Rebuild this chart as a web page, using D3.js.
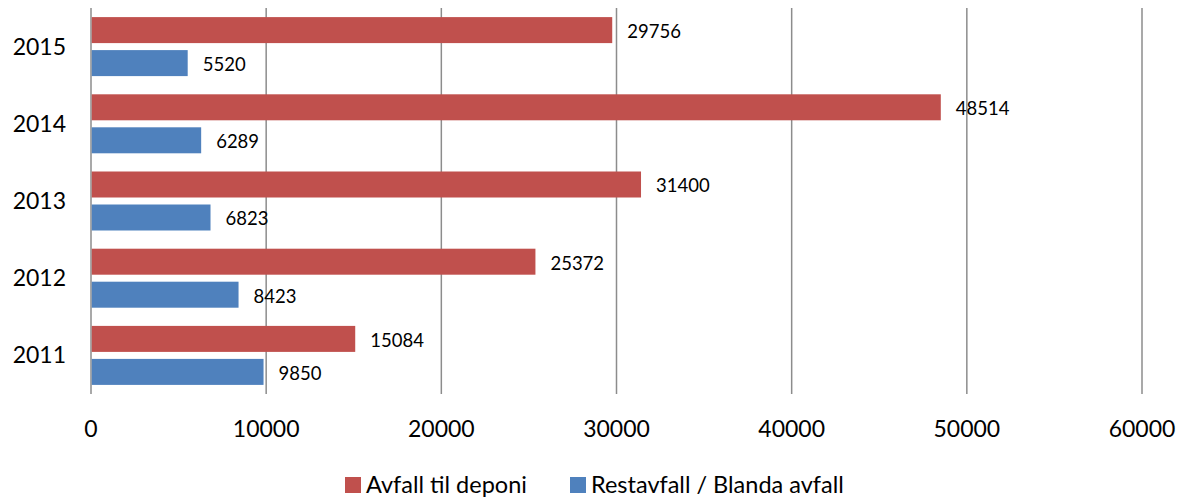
<!DOCTYPE html>
<html>
<head>
<meta charset="utf-8">
<script src="https://cdn.jsdelivr.net/npm/d3@7"></script>
<style>
  body { margin: 0; background: #fff; }
  text { font-family: Lato, "Open Sans", sans-serif; fill: #000; }
</style>
</head>
<body>
<div id="chart"></div>
<script>
var years = ["2015", "2014", "2013", "2012", "2011"];
var deponi = [29756, 48514, 31400, 25372, 15084];
var restavfall = [5520, 6289, 6823, 8423, 9850];
var ticks = [0, 10000, 20000, 30000, 40000, 50000, 60000];
var seriesNames = ["Avfall til deponi", "Restavfall / Blanda avfall"];
var colors = ["#C0504D", "#4F81BD"];

var width = 1186, height = 502;
var plotLeft = 91, plotRight = 1142, plotTop = 8, plotBottom = 394;

var svg = d3.select("#chart").append("svg")
  .attr("width", width)
  .attr("height", height);

var x = d3.scaleLinear().domain([0, 60000]).range([plotLeft, plotRight]);
var y = d3.scaleBand().domain(years).range([plotTop, plotBottom]);

// gridlines
svg.selectAll("line.grid")
  .data(ticks)
  .enter().append("line")
  .attr("class", "grid")
  .attr("x1", function(d) { return x(d); })
  .attr("x2", function(d) { return x(d); })
  .attr("y1", plotTop)
  .attr("y2", plotBottom)
  .attr("stroke", "#8c8c8c")
  .attr("stroke-width", 1.5);

// x tick labels
svg.selectAll("text.tick")
  .data(ticks)
  .enter().append("text")
  .attr("class", "tick")
  .attr("x", function(d) { return x(d); })
  .attr("y", 429)
  .attr("dy", "0.35em")
  .attr("text-anchor", "middle")
  .style("font-size", "23px")
  .text(function(d) { return d; });

// year labels
svg.selectAll("text.year")
  .data(years)
  .enter().append("text")
  .attr("class", "year")
  .attr("x", 66)
  .attr("y", function(d) { return y(d) + y.bandwidth() / 2; })
  .attr("dy", "0.35em")
  .attr("text-anchor", "end")
  .style("font-size", "23px")
  .text(function(d) { return d; });

var barH = 26, gap = 7;
var inner = (y.bandwidth() - 2 * barH - gap) / 2;

var series = [deponi, restavfall];
series.forEach(function(vals, si) {
  var rows = years.map(function(yr, i) { return {year: yr, v: vals[i]}; });
  var yOff = inner + si * (barH + gap);

  svg.selectAll("rect.s" + si)
    .data(rows)
    .enter().append("rect")
    .attr("class", "s" + si)
    .attr("x", x(0) + 0.75)
    .attr("y", function(d) { return y(d.year) + yOff; })
    .attr("width", function(d) { return x(d.v) - x(0) - 0.75; })
    .attr("height", barH)
    .attr("fill", colors[si]);

  svg.selectAll("text.l" + si)
    .data(rows)
    .enter().append("text")
    .attr("class", "l" + si)
    .attr("x", function(d) { return x(d.v) + 15; })
    .attr("y", function(d) { return y(d.year) + yOff + barH / 2 + 1.5; })
    .attr("dy", "0.35em")
    .style("font-size", "18.5px")
    .text(function(d) { return d.v; });
});

// legend
var legendX = [345, 570];
seriesNames.forEach(function(name, i) {
  svg.append("rect")
    .attr("x", legendX[i])
    .attr("y", 477)
    .attr("width", 16)
    .attr("height", 16)
    .attr("fill", colors[i]);
  svg.append("text")
    .attr("x", legendX[i] + 21)
    .attr("y", 485)
    .attr("dy", "0.35em")
    .style("font-size", "23.5px")
    .text(name);
});
</script>
</body>
</html>
